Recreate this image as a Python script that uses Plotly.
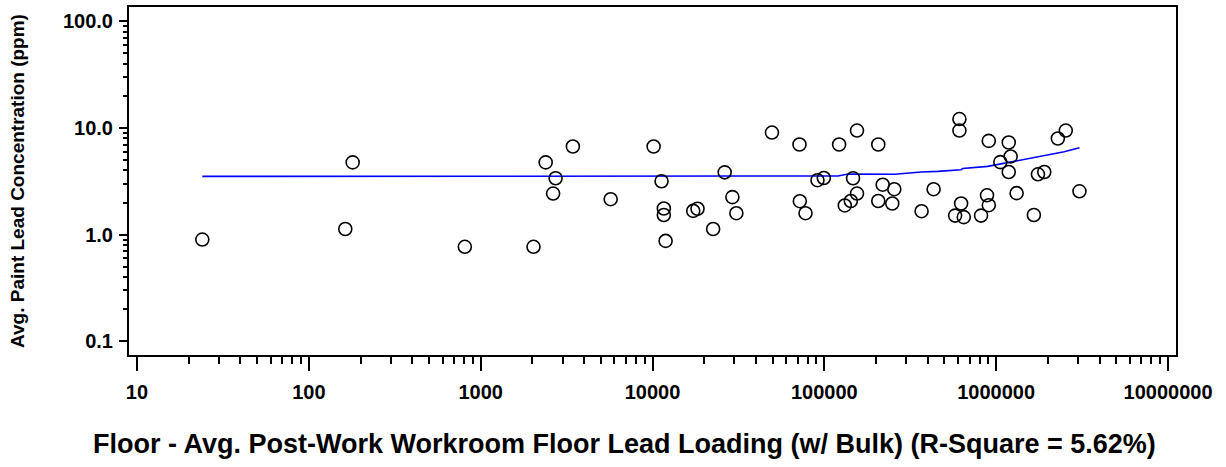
import plotly.graph_objects as go

# Scatter data: floor lead loading (x) vs paint lead concentration (y)
loading = [24, 163, 180, 809, 2030, 2390, 2640, 2730, 3440, 5710,
           10150, 11290, 11640, 11640, 11920, 17260, 18280, 22540, 26300, 29170,
           30760, 49550, 71680, 72000, 77700, 91200, 99300, 121900, 131500, 142600,
           146900, 154900, 154900, 206000, 206000, 218600, 248500, 255300, 368000, 432400,
           576800, 611000, 611000, 625000, 647700, 816600, 884500, 905600, 905600, 1057000,
           1183000, 1183000, 1214000, 1315000, 1657000, 1750000, 1905000, 2285000, 2541000, 3052000]
concentration = [0.90, 1.13, 4.76, 0.77, 0.77, 4.76, 2.43, 3.38, 6.71, 2.15,
                 6.71, 3.17, 1.76, 1.53, 0.874, 1.67, 1.75, 1.13, 3.84, 2.25,
                 1.59, 9.06, 7.0, 2.06, 1.59, 3.24, 3.40, 7.0, 1.88, 2.07,
                 3.38, 9.46, 2.43, 7.0, 2.07, 2.94, 1.96, 2.67, 1.66, 2.67,
                 1.51, 12.13, 9.46, 1.96, 1.46, 1.51, 2.34, 1.89, 7.57, 4.79,
                 7.31, 3.87, 5.41, 2.45, 1.53, 3.68, 3.87, 7.97, 9.46, 2.55]

# Smoothed fit line
fit_x = [24, 99300, 120200, 137400, 256600, 366000, 457300, 625000, 639000,
         892500, 1166000, 1333000, 1593000, 1905000, 2488000, 3052000]
fit_y = [3.52, 3.52, 3.55, 3.70, 3.68, 3.87, 3.92, 4.06, 4.18,
         4.37, 4.76, 4.89, 5.19, 5.48, 5.98, 6.52]

x_tickvals = [10, 100, 1000, 10000, 100000, 1000000, 10000000]
x_ticktext = ["10", "100", "1000", "10000", "100000", "1000000", "10000000"]
y_tickvals = [0.1, 1, 10, 100]
y_ticktext = ["0.1", "1.0", "10.0", "100.0"]

x_title = "Floor - Avg. Post-Work Workroom Floor Lead Loading (w/ Bulk) (R-Square = 5.62%)"
y_title = "Avg. Paint Lead Concentration (ppm)"

x_minor = [m * 10 ** e for e in range(1, 7) for m in range(2, 10)]
y_minor = [m * 10 ** e for e in range(-1, 2) for m in range(2, 10)]

FONT = "Liberation Sans, Arial, sans-serif"

fig = go.Figure()
fig.add_trace(go.Scatter(
    x=fit_x, y=fit_y, mode="lines",
    line=dict(color="#0000FF", width=1.6),
    showlegend=False, hoverinfo="skip"))
fig.add_trace(go.Scatter(
    x=loading, y=concentration, mode="markers",
    marker=dict(symbol="circle-open", size=13, color="black", line=dict(width=1.6, color="black")),
    showlegend=False))

fig.update_layout(
    width=1226, height=467,
    margin=dict(l=129, r=50, t=5, b=112),
    paper_bgcolor="white", plot_bgcolor="white",
    font=dict(family=FONT, color="black"),
    xaxis=dict(
        type="log", range=[0.9536, 7.0464],
        showline=True, linecolor="black", linewidth=2, mirror=True,
        showgrid=False, zeroline=False,
        ticks="outside", ticklen=14, tickwidth=2, tickcolor="black",
        tickvals=x_tickvals, ticktext=x_ticktext,
        tickfont=dict(family=FONT, size=20, color="black", weight="bold"),
        ticklabelstandoff=4,
        minor=dict(ticks="outside", ticklen=7, tickwidth=2, tickcolor="black",
                   tickvals=x_minor, showgrid=False),
    ),
    yaxis=dict(
        type="log", range=[-1.1277, 2.134],
        showline=True, linecolor="black", linewidth=2, mirror=True,
        showgrid=False, zeroline=False,
        ticks="outside", ticklen=8, tickwidth=2, tickcolor="black",
        tickvals=y_tickvals, ticktext=y_ticktext,
        tickfont=dict(family=FONT, size=20, color="black", weight="bold"),
        ticklabelstandoff=2,
        minor=dict(ticks="outside", ticklen=4, tickwidth=1.5, tickcolor="black",
                   tickvals=y_minor, showgrid=False),
    ),
    annotations=[
        dict(text=x_title, xref="paper", yref="paper", x=0.4737, y=-0.256,
             xanchor="center", yanchor="middle", showarrow=False,
             font=dict(family=FONT, size=27, color="black", weight="bold")),
        dict(text=y_title, xref="paper", yref="paper", x=-0.107, y=0.5,
             xanchor="center", yanchor="middle", showarrow=False, textangle=-90,
             font=dict(family=FONT, size=19, color="black", weight="bold")),
    ],
)

fig.write_html(
    "out.html",
    config={"displayModeBar": False},
    post_script="document.body.style.margin='0';document.body.style.overflow='hidden';",
)
